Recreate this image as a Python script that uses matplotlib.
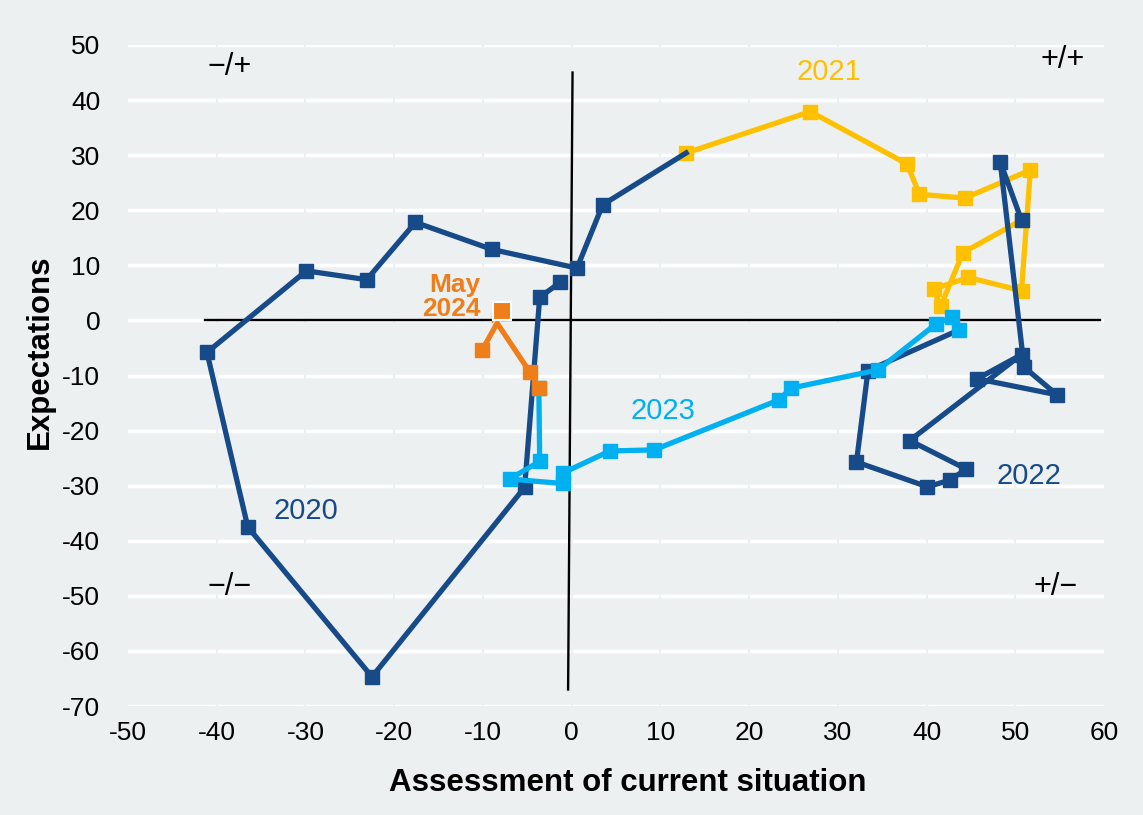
import matplotlib.pyplot as plt
import numpy as np

plt.rcParams['font.family'] = ['Liberation Sans', 'DejaVu Sans']
plt.rcParams['axes.unicode_minus'] = False

# 2020 (dark blue), ends where 2021 starts
x2020 = [-1.3, -3.6, -5.3, -22.5, -36.5, -41.1, -29.9, -23.1, -17.6, -9.0, 0.6, 3.5, 12.9]
y2020 = [6.9, 4.2, -30.3, -64.7, -37.5, -5.8, 9.0, 7.4, 17.8, 12.9, 9.5, 21.0, 30.4]

# 2021 (yellow)
x2021 = [12.9, 26.9, 37.8, 39.2, 44.3, 51.7, 50.7, 44.7, 40.8, 41.6, 44.1, 50.7]
y2021 = [30.4, 37.9, 28.4, 22.9, 22.2, 27.3, 5.4, 7.8, 5.7, 2.6, 12.3, 18.2]

# 2022 (dark blue)
x2022 = [50.7, 48.3, 51.0, 54.7, 45.7, 50.7, 38.1, 44.5, 42.6, 40.1, 32.1, 33.4, 43.7]
y2022 = [18.2, 28.8, -8.5, -13.5, -10.6, -6.2, -21.8, -27.0, -29.0, -30.2, -25.7, -9.1, -1.7]

# 2023 (light blue)
x2023 = [43.7, 42.9, 41.1, 34.5, 24.7, 23.4, 9.3, 4.3, -1.0, -1.0, -7.0, -3.6, -3.7]
y2023 = [-1.7, 0.6, -0.6, -9.0, -12.3, -14.4, -23.5, -23.7, -27.7, -29.6, -28.8, -25.6, -12.2]

# 2024 (orange)
x2024 = [-3.7, -4.7, -8.4, -10.1]
y2024 = [-12.2, -9.4, -0.5, -5.4]
may_x, may_y = -7.9, 1.7

bg = '#EDF0F1'
c_dark = '#174A88'
c_yel = '#FFC000'
c_light = '#00B0F0'
c_orange = '#EF7D1A'

fig = plt.figure(figsize=(11.43, 8.15), dpi=100, facecolor=bg)
ax = fig.add_axes([0.112, 0.1337, 0.8539, 0.8111], facecolor=bg)
ax.set_xlim(-50, 60)
ax.set_ylim(-70, 50)
ax.set_xticks(np.arange(-50, 61, 10))
ax.set_yticks(np.arange(-70, 51, 10))
ax.tick_params(length=0, labelsize=19)
ax.tick_params(axis='y', pad=20)
ax.tick_params(axis='x', pad=11)
for s in ax.spines.values():
    s.set_visible(False)
ax.grid(axis='y', color='white', lw=2.5, zorder=0)
ax.set_axisbelow(True)
for t in np.arange(-40, 60, 10):
    ax.axvline(t, color=bg, lw=1.5, zorder=0.6)

# quadrant axes
ax.plot([-41.3, 59.5], [0, 0], color='black', lw=1.7, zorder=1)
ax.plot([0.1, -0.4], [45, -67], color='black', lw=1.7, zorder=1)

lw = 3.8
ms = 10
ax.plot(x2021, y2021, color=c_yel, lw=lw, marker='s', ms=ms, zorder=2)
ax.plot(x2020, y2020, color=c_dark, lw=lw, marker='s', ms=ms,
        markevery=list(range(len(x2020) - 1)), zorder=3)
ax.plot(x2022, y2022, color=c_dark, lw=lw, marker='s', ms=ms,
        markevery=list(range(len(x2022) - 1)), zorder=3)
ax.plot(x2023, y2023, color=c_light, lw=lw, marker='s', ms=ms, zorder=4)
ax.plot(x2024, y2024, color=c_orange, lw=lw, marker='s', ms=ms,
        markevery=[0, 1, 3], zorder=5)
ax.plot([-9.0, -9.0], [-0.2, 1.4], color=c_orange, lw=1, zorder=5)
ax.plot([may_x], [may_y], ls='none', marker='s', ms=13, color=c_orange,
        mec='white', mew=1.5, zorder=6)

ax.text(-10.3, 4.3, 'May\n2024', color=c_orange, fontsize=19, fontweight='bold',
        ha='right', va='center', linespacing=1.0, zorder=6)
ax.text(-30.0, -34.6, '2020', color=c_dark, fontsize=21, ha='center', va='center')
ax.text(29.0, 45.1, '2021', color=c_yel, fontsize=21, ha='center', va='center')
ax.text(10.3, -16.4, '2023', color=c_light, fontsize=21, ha='center', va='center')
ax.text(51.5, -28.2, '2022', color=c_dark, fontsize=21, ha='center', va='center')

ax.text(-38.5, 46, '\u2212/+', fontsize=22, ha='center', va='center')
ax.text(55.3, 47.3, '+/+', fontsize=22, ha='center', va='center')
ax.text(-38.5, -48.4, '\u2212/\u2212', fontsize=22, ha='center', va='center')
ax.text(54.5, -48.4, '+/\u2212', fontsize=22, ha='center', va='center')

fig.text(0.549, 0.039, 'Assessment of current situation', fontsize=22.5,
         fontweight='bold', ha='center', va='center')
fig.text(0.035, 0.568, 'Expectations', fontsize=22.5, fontweight='bold',
         ha='center', va='center', rotation=90)

fig.savefig('out.png', dpi=100, facecolor=bg)
